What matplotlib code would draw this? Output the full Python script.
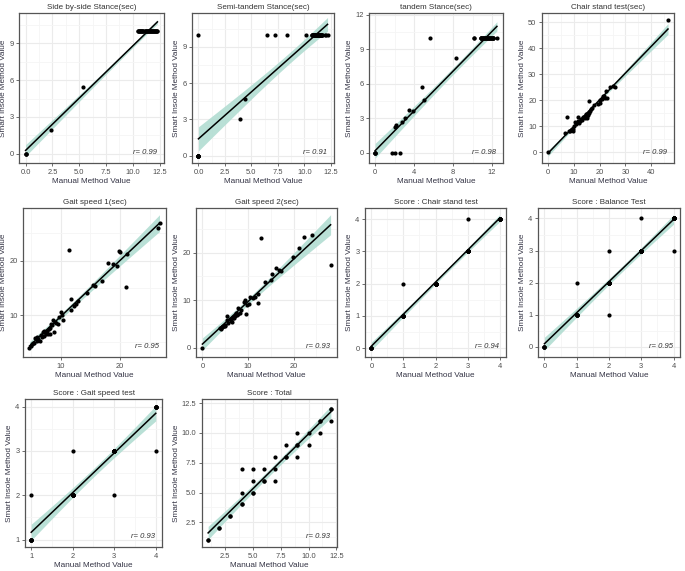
#!/usr/bin/env python3
# -*- coding: utf-8 -*-
"""Manual vs smart-insole agreement: 10 scatter panels with linear fit + 95% band."""

import numpy as np
import matplotlib
matplotlib.use("Agg")
import matplotlib.pyplot as plt
from matplotlib.ticker import MultipleLocator, AutoMinorLocator

plt.rcParams["font.family"] = ["Liberation Sans", "DejaVu Sans"]

# ------------------------------- data --------------------------------------
# (overlapping subjects are listed repeatedly: ceiling values of 10 s etc.)

titles = ["Side by-side Stance(sec)", "Semi-tandem Stance(sec)", "tandem Stance(sec)",
          "Chair stand test(sec)", "Gait speed 1(sec)", "Gait speed 2(sec)",
          "Score : Chair stand test", "Score : Balance Test", "Score : Gait speed test",
          "Score : Total"]
r_labels = ["r= 0.99", "r= 0.91", "r= 0.98", "r= 0.99", "r= 0.95",
            "r= 0.93", "r= 0.94", "r= 0.95", "r= 0.93", "r= 0.93"]

side_x = [0, 0, 0, 2.4, 5.4] + [10.5, 10.6, 10.7, 10.8, 10.9, 11.0, 11.1, 11.2, 11.3, 11.4,
                                11.5, 11.6, 11.7, 11.8, 11.9, 12.0, 12.1, 12.2, 12.3] * 2
side_y = [0, 0, 0, 1.9, 5.4] + [10] * 38

semi_x = [0] * 9 + [3.9, 4.4, 6.5, 7.2, 8.4, 10.2] + \
         [10.7, 10.8, 10.9, 11.0, 11.1, 11.2, 11.3, 11.4, 11.5, 11.6, 11.7] * 3 + \
         [12.0, 12.1, 12.2]
semi_y = [10] + [0] * 8 + [3.0, 4.7, 10, 10, 10, 10] + [10] * 33 + [10, 10, 10]

tandem_x = [0, 0, 0, 0, 1.7, 2.0, 2.6, 2.0, 2.1, 2.8, 3.1, 3.5, 3.9, 4.8, 5.0, 5.6, 8.3,
            10.1, 10.2] + [10.9, 11.1, 11.3, 11.5, 11.7, 11.9, 12.1] * 4 + [12.5]
tandem_y = [0, 0, 0, 0, 0, 0, 0, 2.2, 2.4, 2.7, 3.0, 3.7, 3.6, 5.7, 4.6, 10, 8.2,
            10, 10] + [10] * 28 + [10]

chair_x = [0, 6.5, 7.5, 8.0, 8.5, 9.0, 9.5, 9.8, 10.5, 11.0, 11.5, 11.8, 12.0, 12.5,
           13.0, 14.0, 14.5, 15.0, 15.2, 15.5, 15.8, 16.0, 16.5, 17.0, 19.5, 20.0,
           20.0, 21.0, 21.5, 22.0, 22.5, 23.0, 24.0, 25.0, 26.0, 46.5,
           9.2, 10.2, 12.8, 13.6, 14.8, 16.2, 18.0, 21.8]
chair_y = [0, 7.5, 13.7, 8.0, 8.2, 8.5, 8.3, 9.0, 11.5, 11.0, 13.7, 12.0, 11.3, 12.0,
           12.5, 13.5, 13.2, 14.0, 13.0, 14.5, 19.8, 15.0, 16.5, 17.0, 18.5, 19.0,
           20.0, 20.5, 21.5, 21.0, 23.5, 20.8, 25.0, 25.5, 25.0, 51.0,
           9.0, 10.0, 12.6, 13.4, 14.6, 16.0, 18.0, 21.5]

gait1_x = [4.8, 5.2, 5.6, 5.75, 6.0, 6.3, 6.5, 6.9, 7.2, 7.4, 7.6, 7.7, 7.9, 8.2, 8.2,
           8.4, 8.7, 8.9, 9.2, 9.5, 10.0, 10.3, 10.4, 11.5, 11.7, 11.8, 12.6, 13.0,
           14.4, 15.4, 16.9, 18.0, 18.8, 19.8, 20.0, 20.9, 21.1, 26.3, 26.6,
           5.0, 5.4, 6.1, 6.7, 7.0, 7.3, 8.0, 8.6, 9.0, 9.8, 12.2, 15.8, 19.5]
gait1_y = [4.0, 4.6, 4.9, 5.8, 5.2, 5.6, 5.3, 5.9, 6.2, 6.9, 6.5, 7.1, 6.5, 7.7, 6.6,
           8.3, 9.1, 6.8, 8.5, 8.3, 10.5, 10.0, 9.0, 21.9, 10.9, 13.0, 12.0, 12.6,
           14.1, 15.5, 16.3, 19.5, 19.3, 21.7, 21.5, 15.1, 21.3, 26.0, 26.9,
           4.3, 4.8, 5.9, 6.4, 6.8, 7.0, 7.5, 8.2, 8.7, 9.6, 11.7, 15.3, 19.0]

gait2_x = [0, 3.9, 4.2, 4.4, 4.6, 4.9, 5.3, 5.7, 6.0, 6.4, 6.8, 7.1, 7.5, 7.9, 8.2,
           9.1, 9.3, 9.6, 10.2, 10.4, 11.5, 12.1, 12.2, 12.9, 13.7, 15.3, 16.2, 16.8,
           19.9, 21.2, 22.3, 24.0, 28.1,
           4.0, 4.7, 5.0, 5.5, 6.2, 6.6, 7.0, 7.3, 7.7, 8.5, 9.8, 11.0, 15.0, 17.2]
gait2_y = [0, 4.1, 4.3, 4.4, 4.6, 4.7, 6.7, 5.3, 6.0, 5.5, 6.3, 6.7, 7.0, 8.4, 7.4,
           9.7, 10.1, 7.1, 9.2, 10.7, 10.7, 11.3, 9.4, 23.0, 13.9, 15.5, 16.8, 16.4,
           19.0, 20.9, 23.3, 23.7, 17.3,
           4.0, 4.5, 4.9, 5.8, 5.7, 6.5, 6.2, 7.3, 7.2, 8.0, 9.0, 10.5, 14.2, 16.2]

sc_chair_x = [0] * 5 + [1] * 7 + [1] + [2] * 12 + [3] * 12 + [3] + [4] * 8
sc_chair_y = [0] * 5 + [1] * 7 + [2] + [2] * 12 + [3] * 12 + [4] + [4] * 8

sc_bal_x = [0] * 4 + [1] * 6 + [1, 2] + [2] * 12 + [2] + [3] * 14 + [3, 4] + [4] * 10
sc_bal_y = [0] * 4 + [1] * 6 + [2, 1] + [2] * 12 + [3] + [3] * 14 + [4, 3] + [4] * 10

sc_gait_x = [1] * 6 + [1] + [2] * 10 + [2, 3] + [3] * 15 + [4] + [4] * 6
sc_gait_y = [1] * 6 + [2] + [2] * 10 + [3, 2] + [3] * 15 + [3] + [4] * 6

sc_total_x = [1, 2, 3, 4, 4, 4, 5, 5, 5, 6, 6, 7, 7, 7, 8, 8, 9, 9, 9, 10, 11, 11, 12, 12,
              1, 2, 3, 4, 5, 6, 8, 9, 10, 11, 12]
sc_total_y = [1, 2, 3, 4, 5, 7, 5, 6, 7, 6, 7, 6, 7, 8, 8, 9, 8, 9, 10, 9, 10, 11, 11, 12,
              1, 2, 3, 4, 5, 6, 8, 9, 10, 11, 12]

xs_all = [side_x, semi_x, tandem_x, chair_x, gait1_x, gait2_x,
          sc_chair_x, sc_bal_x, sc_gait_x, sc_total_x]
ys_all = [side_y, semi_y, tandem_y, chair_y, gait1_y, gait2_y,
          sc_chair_y, sc_bal_y, sc_gait_y, sc_total_y]

# tick steps (x, y) per panel
steps = [(2.5, 3), (2.5, 3), (4, 3), (10, 10), (10, 10), (10, 10),
         (1, 1), (1, 1), (1, 1), (2.5, 2.5)]
# fixed y ranges where auto-limits would differ from the reference
ylims = {1: (-0.6, 11.8), 2: (-0.9, 12.15)}

# axes boxes in pixels: left, top, right, bottom
W, H = 685, 571
boxes = [(19, 13, 164, 163), (192, 13, 334, 163), (369, 13, 503, 163), (542, 13, 674, 163),
         (23, 208, 166, 357), (196, 208, 337, 357), (365, 208, 506, 357), (538, 208, 680, 357),
         (25, 399, 162, 547), (202, 399, 337, 547)]

BAND = "#b2ddd2"
GRID = "#ebebeb"
TXT = "#4d4d4d"


def fit_band(x, y, grid):
    x = np.asarray(x, float)
    y = np.asarray(y, float)
    n = len(x)
    b, a = np.polyfit(x, y, 1)
    res = y - (a + b * x)
    s = np.sqrt(np.sum(res ** 2) / (n - 2))
    sxx = np.sum((x - x.mean()) ** 2)
    fit = a + b * grid
    se = s * np.sqrt(1.0 / n + (grid - x.mean()) ** 2 / sxx)
    t = 2.01
    return fit, fit - t * se, fit + t * se


fig = plt.figure(figsize=(W / 100, H / 100), dpi=100)

for i in range(10):
    l, t, r, b = boxes[i]
    ax = fig.add_axes([l / W, 1 - b / H, (r - l) / W, (b - t) / H])
    x, y = xs_all[i], ys_all[i]
    g = np.linspace(min(x), max(x), 100)
    fit, lo, hi = fit_band(x, y, g)
    ax.fill_between(g, lo, hi, color=BAND, alpha=0.9, lw=0, zorder=2)
    ax.plot(g, fit, color="black", lw=1.1, zorder=3)
    ax.scatter(x, y, s=9, color="black", zorder=4, linewidths=0)

    sx, sy = steps[i]
    ax.xaxis.set_major_locator(MultipleLocator(sx))
    ax.yaxis.set_major_locator(MultipleLocator(sy))
    ax.xaxis.set_minor_locator(AutoMinorLocator(2))
    ax.yaxis.set_minor_locator(AutoMinorLocator(2))
    if sx == 2.5:
        ax.xaxis.set_major_formatter(lambda v, p: f"{v:.1f}")
    if sy == 2.5:
        ax.yaxis.set_major_formatter(lambda v, p: f"{v:.1f}")
    ax.margins(0.05)
    if i in ylims:
        ax.set_ylim(*ylims[i])
    ax.grid(True, which="major", color=GRID, lw=0.8, zorder=0)
    ax.grid(True, which="minor", color="#f5f5f5", lw=0.6, zorder=0)
    ax.set_axisbelow(True)
    for sp in ax.spines.values():
        sp.set_color("#555555")
        sp.set_linewidth(0.9)
    ax.tick_params(which="major", length=2.5, width=0.6, color="#555555",
                   labelsize=5.4, labelcolor=TXT, pad=1.5)
    ax.tick_params(which="minor", length=0)

    ax.set_title(titles[i], fontsize=5.8, color="#333333", pad=3)
    ax.set_xlabel("Manual Method Value", fontsize=5.9, color="#333344", labelpad=1.5)
    ax.set_ylabel("Smart Insole Method Value", fontsize=5.9, color="#333344", labelpad=1.5)
    ax.text(0.95, 0.05, r_labels[i], transform=ax.transAxes, ha="right", va="bottom",
            fontsize=5.5, style="italic", color="#333333")

fig.savefig("out.png", dpi=100)
